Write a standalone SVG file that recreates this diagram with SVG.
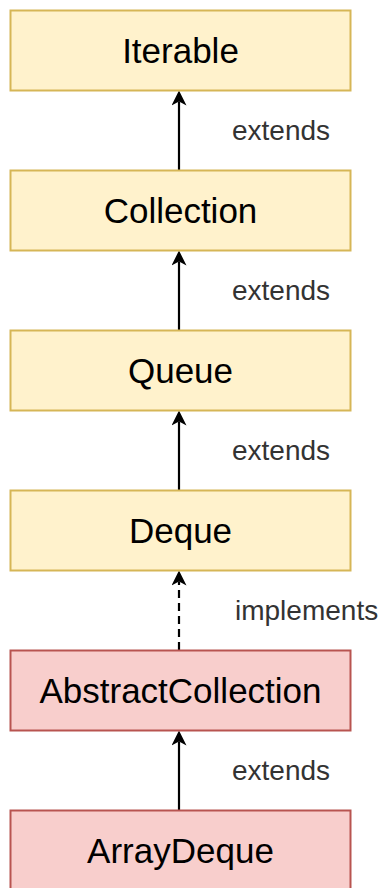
<svg xmlns="http://www.w3.org/2000/svg" width="381" height="888" viewBox="0 0 381 888">
<style>
.y{fill:#fff2cc;stroke:#d6b656;stroke-width:2}
.r{fill:#f8cecc;stroke:#b85450;stroke-width:2}
.t{font-family:"Liberation Sans",Arial,sans-serif;font-size:35px;fill:#000;text-anchor:middle}
.l{font-family:"Liberation Sans",Arial,sans-serif;font-size:28px;fill:#333}
.c{stroke:#000;stroke-width:2.2;fill:none;marker-end:url(#ah)}
.d{stroke-dasharray:8 5}
</style>
<defs>
<marker id="ah" markerUnits="userSpaceOnUse" viewBox="0 0 15 15" refX="4" refY="7.5" markerWidth="15" markerHeight="15" orient="auto">
<path d="M0,0 L15,7.5 L0,15 L4,7.5 Z" fill="#000" stroke="none"/>
</marker>
</defs>
<g id="connectors">
<path class="c" d="M179,170 V101.5"/>
<path class="c" d="M179,330 V261.5"/>
<path class="c" d="M179,490 V421.5"/>
<path class="c d" d="M179,650 V581.5"/>
<path class="c" d="M179,810 V741.5"/>
<text class="l" x="232" y="140">extends</text>
<text class="l" x="232" y="300">extends</text>
<text class="l" x="232" y="460">extends</text>
<text class="l" x="235" y="620">implements</text>
<text class="l" x="232" y="780">extends</text>
</g>
<g id="iterable"><rect class="y" x="10.5" y="10.5" width="340" height="80"/><text class="t" x="180.5" y="62.5">Iterable</text></g>
<g id="collection"><rect class="y" x="10.5" y="170.5" width="340" height="80"/><text class="t" x="180.5" y="222.5">Collection</text></g>
<g id="queue"><rect class="y" x="10.5" y="330.5" width="340" height="80"/><text class="t" x="180.5" y="382.5">Queue</text></g>
<g id="deque"><rect class="y" x="10.5" y="490.5" width="340" height="80"/><text class="t" x="180.5" y="542.5">Deque</text></g>
<g id="abstractcollection"><rect class="r" x="10.5" y="650.5" width="340" height="80"/><text class="t" x="180.5" y="702.5">AbstractCollection</text></g>
<g id="arraydeque"><rect class="r" x="10.5" y="810.5" width="340" height="80"/><text class="t" x="180.5" y="862.5">ArrayDeque</text></g>
</svg>
